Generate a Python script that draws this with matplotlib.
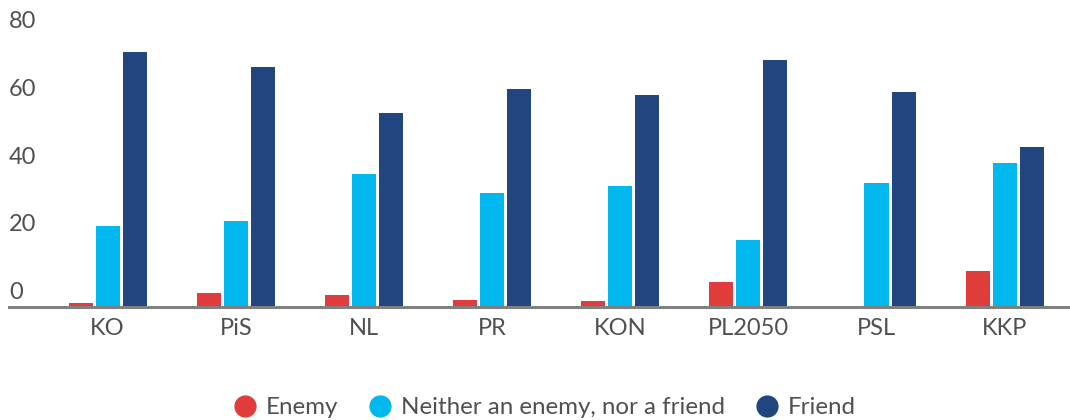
import matplotlib
matplotlib.use("Agg")
import matplotlib.pyplot as plt
from matplotlib.lines import Line2D
from matplotlib.transforms import ScaledTranslation
import numpy as np

categories = ["KO", "PiS", "NL", "PR", "KON", "PL2050", "PSL", "KKP"]
enemy = [1.0, 4.0, 3.4, 1.9, 1.6, 7.2, 0.0, 10.5]
neither = [23.8, 25.3, 39.2, 33.6, 35.6, 19.7, 36.5, 42.5]
friend = [75.3, 70.9, 57.2, 64.3, 62.6, 72.9, 63.5, 47.2]
series_names = ["Enemy", "Neither an enemy, nor a friend", "Friend"]
colors = ["#e03c3c", "#00b7ee", "#21467f"]
yticks = [0, 20, 40, 60, 80]

plt.rcParams['font.family'] = ['Lato', 'DejaVu Sans']
text_color = "#505050"

fig = plt.figure(figsize=(10.7, 4.2), dpi=100)
W, H = 1070, 420
left, right = 9, 1070
bottom, top = 306.5, 36.0
ax = fig.add_axes([left / W, (H - bottom) / H, (right - left) / W, (bottom - top) / H])

x = np.arange(len(categories))
bw = 0.1875
step = 0.211
for k, (vals, c) in enumerate(zip([enemy, neither, friend], colors)):
    ax.bar(x + (k - 1) * step, vals, width=bw, color=c, linewidth=0, zorder=2)

ax.set_xlim(-0.77, 7.51)
ax.set_ylim(0, 80)
for s in ["top", "right", "left"]:
    ax.spines[s].set_visible(False)
ax.spines["bottom"].set_color("#808080")
ax.spines["bottom"].set_linewidth(2.2)
ax.spines["bottom"].set_zorder(3)

ax.set_xticks(x)
ax.set_xticklabels(categories, fontsize=17, color=text_color)
ax.tick_params(axis='x', length=0, pad=8)
ax.set_yticks([])

off = ScaledTranslation(0, 14 / 100, fig.dpi_scale_trans)
for t in yticks:
    ax.text(0, t, str(t), transform=ax.get_yaxis_transform() + off,
            ha='left', va='center', fontsize=17, color=text_color, clip_on=False)

handles = [Line2D([], [], marker='o', linestyle='none', markersize=15,
                  markerfacecolor=c, markeredgecolor=c) for c in colors]
leg = fig.legend(handles, series_names, loc='center', bbox_to_anchor=(544 / W, (H - 408) / H),
                 ncol=3, frameon=False, fontsize=17.4, handletextpad=0.35,
                 columnspacing=1.25, handlelength=1.0)
for t in leg.get_texts():
    t.set_color(text_color)

fig.savefig("out.png", dpi=100)
